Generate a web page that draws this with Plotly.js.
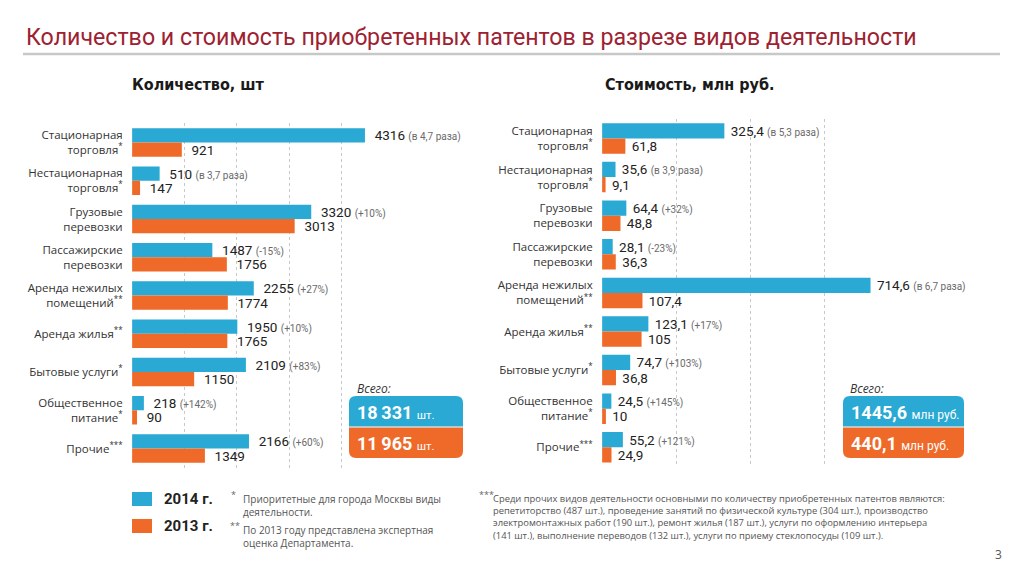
<!DOCTYPE html>
<html>
<head>
<meta charset="utf-8">
<script src="https://cdn.plot.ly/plotly-3.0.1.min.js"></script>
<style>
html,body{margin:0;padding:0;background:#fff;}
#chart{width:1024px;height:572px;}
</style>
</head>
<body>
<div id="chart"></div>
<script>
// ---------- DATA ----------
var categories = [
  'Стационарная<br>торговля<sup>*</sup>',
  'Нестационарная<br>торговля<sup>*</sup>',
  'Грузовые<br>перевозки',
  'Пассажирские<br>перевозки',
  'Аренда нежилых<br>помещений<sup>**</sup>',
  'Аренда жилья<sup>**</sup>',
  'Бытовые услуги<sup>*</sup>',
  'Общественное<br>питание<sup>*</sup>',
  'Прочие<sup>***</sup>'
];
var count2014 = [4316, 510, 3320, 1487, 2255, 1950, 2109, 218, 2166];
var count2013 = [921, 147, 3013, 1756, 1774, 1765, 1150, 90, 1349];
var countChange = ['(в 4,7 раза)', '(в 3,7 раза)', '(+10%)', '(-15%)', '(+27%)', '(+10%)', '(+83%)', '(+142%)', '(+60%)'];
var cost2014 = [325.4, 35.6, 64.4, 28.1, 714.6, 123.1, 74.7, 24.5, 55.2];
var cost2013 = [61.8, 9.1, 48.8, 36.3, 107.4, 105, 36.8, 10, 24.9];
var costChange = ['(в 5,3 раза)', '(в 3,9 раза)', '(+32%)', '(-23%)', '(в 6,7 раза)', '(+17%)', '(+103%)', '(+145%)', '(+121%)'];
var seriesNames = ['2014 г.', '2013 г.'];
var totalCount = ['18\u2009331', '11\u2009965'];
var totalCost = ['1445,6', '440,1'];
var countUnit = 'шт.';
var costUnit = 'млн руб.';

// ---------- STYLE ----------
var BLUE = '#29a9d3', ORANGE = '#ef6a28';
var NUMFONT = 'Roboto, "Open Sans", sans-serif';
var LBLFONT = '"Open Sans", "Noto Sans", sans-serif';
var HEADFONT = '"DejaVu Sans Condensed", Roboto, sans-serif';
var W = 1024, H = 572;
function px(x){ return x / W; }
function py(y){ return 1 - y / H; }
function fmt(v){ return String(v).replace('.', ','); }
function labels(vals, extra, pad){
  return vals.map(function(v, i){
    var s = pad + fmt(v);
    if (extra) s += ' <span style="font-size:10px;color:#6a6a6a">' + extra[i] + '</span>';
    return s;
  });
}
function roundRect(x0, y0, x1, y1, rTop, rBot){
  var X = px, Y = py;
  return 'M' + X(x0 + rTop) + ',' + Y(y0) +
    ' L' + X(x1 - rTop) + ',' + Y(y0) +
    ' Q' + X(x1) + ',' + Y(y0) + ' ' + X(x1) + ',' + Y(y0 + rTop) +
    ' L' + X(x1) + ',' + Y(y1 - rBot) +
    ' Q' + X(x1) + ',' + Y(y1) + ' ' + X(x1 - rBot) + ',' + Y(y1) +
    ' L' + X(x0 + rBot) + ',' + Y(y1) +
    ' Q' + X(x0) + ',' + Y(y1) + ' ' + X(x0) + ',' + Y(y1 - rBot) +
    ' L' + X(x0) + ',' + Y(y0 + rTop) +
    ' Q' + X(x0) + ',' + Y(y0) + ' ' + X(x0 + rTop) + ',' + Y(y0) + ' Z';
}

var wL = 0.372, wR = 0.395;
function barTrace(x, text, color, name, xa, ya, w, off){
  return {
    type: 'bar', orientation: 'h', y: categories, x: x, name: name,
    xaxis: xa, yaxis: ya, width: w, offset: off,
    marker: {color: color, line: {width: 0}},
    text: text, textposition: 'outside', constraintext: 'none', cliponaxis: false,
    textfont: {family: NUMFONT, size: 13.5, color: '#222'},
    hoverinfo: 'x+name', showlegend: false
  };
}

var data = [
  barTrace(count2014, labels(count2014, countChange, '\u00a0\u00a0'), BLUE, seriesNames[0], 'x', 'y', wL, -wL),
  barTrace(count2013, labels(count2013, null, '\u00a0\u00a0'), ORANGE, seriesNames[1], 'x', 'y', wL, 0),
  barTrace(cost2014, labels(cost2014, costChange, '\u00a0'), BLUE, seriesNames[0], 'x2', 'y2', wR, -wR),
  barTrace(cost2013, labels(cost2013, null, '\u00a0'), ORANGE, seriesNames[1], 'x2', 'y2', wR, 0)
];

var RL = 4852, RR = 790;
var gridAxis = function(dom, R, n){
  return {domain: dom, range: [-R * 0.0005, R * 1.0005], tick0: 0, dtick: R / n,
    showticklabels: false, zeroline: false, showline: false, ticks: '',
    showgrid: true, gridcolor: '#c9c9c9', griddash: 'dot', gridwidth: 1, fixedrange: true};
};
var xL = gridAxis([px(132), px(394)], RL, 5);
var xR = gridAxis([px(602), px(899)], RR, 4);

var yAxis = function(dom, anchor){
  return {domain: dom, anchor: anchor, type: 'category', autorange: 'reversed',
    showgrid: false, zeroline: false, showline: false,
    ticks: 'outside', ticklen: 6, tickcolor: 'rgba(0,0,0,0)',
    tickfont: {family: LBLFONT, size: 11.5, color: '#333'}, fixedrange: true};
};

function ann(o){ o.xref = 'paper'; o.yref = 'paper'; o.showarrow = false; return o; }

var annotations = [
  ann({text: 'Количество и стоимость приобретенных патентов в разрезе видов деятельности',
   x: px(24), y: py(37), xanchor: 'left', yanchor: 'middle',
   font: {family: 'Roboto, sans-serif', size: 23.2, color: '#9d2131'}}),
  ann({text: '<b>Количество, шт</b>', x: px(130), y: py(85), xanchor: 'left', yanchor: 'middle',
   font: {family: HEADFONT, size: 16, color: '#1a1a1a'}}),
  ann({text: '<b>Стоимость, млн руб.</b>', x: px(603), y: py(85), xanchor: 'left', yanchor: 'middle',
   font: {family: HEADFONT, size: 16, color: '#1a1a1a'}}),
  ann({text: '<i>Всего:</i>', x: px(355), y: py(388), xanchor: 'left', yanchor: 'middle',
   font: {family: LBLFONT, size: 12, color: '#333'}}),
  ann({text: '<i>Всего:</i>', x: px(848), y: py(388), xanchor: 'left', yanchor: 'middle',
   font: {family: LBLFONT, size: 12, color: '#333'}}),
  ann({text: '<b>' + totalCount[0] + '</b> <span style="font-size:11.5px">' + countUnit + '</span>', x: px(355), y: py(412), xanchor: 'left', yanchor: 'middle',
   font: {family: NUMFONT, size: 18, color: '#fff'}}),
  ann({text: '<b>' + totalCount[1] + '</b> <span style="font-size:11.5px">' + countUnit + '</span>', x: px(355), y: py(443), xanchor: 'left', yanchor: 'middle',
   font: {family: NUMFONT, size: 18, color: '#fff'}}),
  ann({text: '<b>' + totalCost[0] + '</b> <span style="font-size:12px">' + costUnit + '</span>', x: px(849), y: py(412), xanchor: 'left', yanchor: 'middle',
   font: {family: NUMFONT, size: 18, color: '#fff'}}),
  ann({text: '<b>' + totalCost[1] + '</b> <span style="font-size:12px">' + costUnit + '</span>', x: px(849), y: py(443), xanchor: 'left', yanchor: 'middle',
   font: {family: NUMFONT, size: 18, color: '#fff'}}),
  ann({text: '<b>' + seriesNames[0] + '</b>', x: px(162), y: py(499), xanchor: 'left', yanchor: 'middle',
   font: {family: NUMFONT, size: 15, color: '#222'}}),
  ann({text: '<b>' + seriesNames[1] + '</b>', x: px(162), y: py(526), xanchor: 'left', yanchor: 'middle',
   font: {family: NUMFONT, size: 15, color: '#222'}}),
  ann({text: '*', x: px(229), y: py(494), xanchor: 'left', yanchor: 'middle',
   font: {family: LBLFONT, size: 9, color: '#666'}}),
  ann({text: 'Приоритетные для города Москвы виды<br>деятельности.', x: px(241), y: py(490), xanchor: 'left', yanchor: 'top', align: 'left',
   font: {family: LBLFONT, size: 10, color: '#555'}}),
  ann({text: '**', x: px(228), y: py(525), xanchor: 'left', yanchor: 'middle',
   font: {family: LBLFONT, size: 9, color: '#666'}}),
  ann({text: 'По 2013 году представлена экспертная<br>оценка Департамента.', x: px(241), y: py(521), xanchor: 'left', yanchor: 'top', align: 'left',
   font: {family: LBLFONT, size: 10, color: '#555'}}),
  ann({text: '***', x: px(477), y: py(494), xanchor: 'left', yanchor: 'middle',
   font: {family: LBLFONT, size: 9, color: '#666'}}),
  ann({text: 'Среди прочих видов деятельности основными по количеству приобретенных патентов являются:<br>' +
         'репетиторство (487 шт.), проведение занятий по физической культуре (304 шт.), производство<br>' +
         'электромонтажных работ (190 шт.), ремонт жилья (187 шт.), услуги по оформлению интерьера<br>' +
         '(141 шт.), выполнение переводов (132 шт.), услуги по приему стеклопосуды (109 шт.).',
   x: px(491), y: py(490), xanchor: 'left', yanchor: 'top', align: 'left',
   font: {family: LBLFONT, size: 9.4, color: '#555'}}),
  ann({text: '3', x: px(1004), y: py(554), xanchor: 'right', yanchor: 'middle',
   font: {family: LBLFONT, size: 12, color: '#555'}})
];

var shapes = [
  {type: 'line', xref: 'paper', yref: 'paper', x0: px(23), x1: px(1000), y0: py(54), y1: py(54),
   line: {color: '#c8c8c8', width: 2.5}},
  {type: 'rect', xref: 'paper', yref: 'paper', x0: px(132), x1: px(152), y0: py(492), y1: py(506),
   fillcolor: BLUE, line: {width: 0}},
  {type: 'rect', xref: 'paper', yref: 'paper', x0: px(132), x1: px(152), y0: py(519), y1: py(533),
   fillcolor: ORANGE, line: {width: 0}},
  {type: 'path', xref: 'paper', yref: 'paper', path: roundRect(349, 396, 463, 426.5, 7, 0), fillcolor: BLUE, line: {width: 0}},
  {type: 'path', xref: 'paper', yref: 'paper', path: roundRect(349, 427.5, 463, 458, 0, 7), fillcolor: ORANGE, line: {width: 0}},
  {type: 'path', xref: 'paper', yref: 'paper', path: roundRect(843, 396, 964, 426.5, 7, 0), fillcolor: BLUE, line: {width: 0}},
  {type: 'path', xref: 'paper', yref: 'paper', path: roundRect(843, 427.5, 964, 458, 0, 7), fillcolor: ORANGE, line: {width: 0}}
];

var layout = {
  width: W, height: H, margin: {l: 0, r: 0, t: 0, b: 0},
  paper_bgcolor: '#fff', plot_bgcolor: 'rgba(0,0,0,0)',
  showlegend: false, barmode: 'group',
  xaxis: xL, yaxis: yAxis([py(467.6), py(123.4)], 'x'),
  xaxis2: xR, yaxis2: yAxis([py(466.6), py(119.2)], 'x2'),
  annotations: annotations, shapes: shapes
};
layout.xaxis.anchor = 'y';
layout.xaxis2.anchor = 'y2';

Plotly.newPlot('chart', data, layout, {displayModeBar: false, staticPlot: true});
</script>
</body>
</html>
